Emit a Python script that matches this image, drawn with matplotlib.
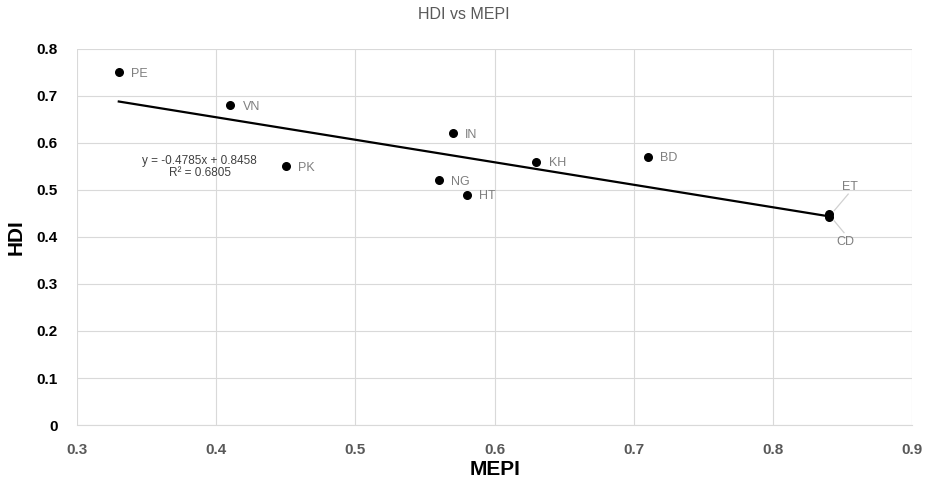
import matplotlib
matplotlib.use("Agg")
import matplotlib.pyplot as plt
import numpy as np

# data
countries = ["PE", "VN", "PK", "IN", "NG", "HT", "KH", "BD", "ET", "CD"]
mepi = [0.33, 0.41, 0.45, 0.57, 0.56, 0.58, 0.63, 0.71, 0.84, 0.84]
hdi = [0.75, 0.68, 0.55, 0.62, 0.52, 0.49, 0.56, 0.57, 0.448, 0.442]
slope, intercept = -0.4785, 0.8458
r2 = 0.6805

plt.rcParams['font.family'] = ['Liberation Sans', 'DejaVu Sans']

fig = plt.figure(figsize=(9.28, 4.83), dpi=100, facecolor='white')
ax = fig.add_axes([0.083, 0.12, 0.9, 0.779])

ax.scatter(mepi, hdi, s=30, color='black', zorder=3)

x_fit = np.array([min(mepi), max(mepi)])
ax.plot(x_fit, slope * x_fit + intercept, color='black', linewidth=1.6, zorder=2)

for name, xv, yv in zip(countries, mepi, hdi):
    if name == "ET":
        ax.plot([xv + 0.004, xv + 0.014], [yv + 0.008, yv + 0.043], color='#d0d0d0', lw=0.9, zorder=1)
        ax.text(xv + 0.015, yv + 0.058, name, color='#7f7f7f', fontsize=9, ha='center', va='center')
    elif name == "CD":
        ax.plot([xv + 0.004, xv + 0.011], [yv - 0.008, yv - 0.033], color='#d0d0d0', lw=0.9, zorder=1)
        ax.text(xv + 0.012, yv - 0.053, name, color='#7f7f7f', fontsize=9, ha='center', va='center')
    else:
        ax.annotate(name, (xv, yv), xytext=(9, -1), textcoords='offset points',
                    color='#7f7f7f', fontsize=9, ha='left', va='center')

ax.text(0.388, 0.548, f"y = {slope}x + {intercept}\nR² = {r2}", color='#404040',
        fontsize=8.5, ha='center', va='center', linespacing=1.0)

ax.set_xlim(0.3, 0.9)
ax.set_ylim(0, 0.8)
ax.set_xticks(np.arange(0.3, 0.91, 0.1))
ax.set_yticks(np.arange(0, 0.81, 0.1))
ax.set_xticklabels(["0.3", "0.4", "0.5", "0.6", "0.7", "0.8", "0.9"])
ax.set_yticklabels(["0", "0.1", "0.2", "0.3", "0.4", "0.5", "0.6", "0.7", "0.8"])
ax.grid(True, color='#d9d9d9', linewidth=0.8)
ax.set_axisbelow(True)
for s in ['top', 'right', 'left']:
    ax.spines[s].set_visible(False)
ax.spines['bottom'].set_color('#d9d9d9')
ax.tick_params(length=0, labelsize=11)
ax.tick_params(axis='x', colors='#595959', pad=13)
ax.tick_params(axis='y', colors='black', pad=14)
for lab in ax.get_xticklabels() + ax.get_yticklabels():
    lab.set_fontweight('bold')

ax.set_xlabel("MEPI", fontsize=15, fontweight='bold', labelpad=2)
ax.set_ylabel("HDI", fontsize=15, fontweight='bold', labelpad=8)
fig.suptitle("HDI vs MEPI", color='#595959', fontsize=11.5, y=0.985)

fig.savefig("out.png", dpi=100, facecolor='white')
